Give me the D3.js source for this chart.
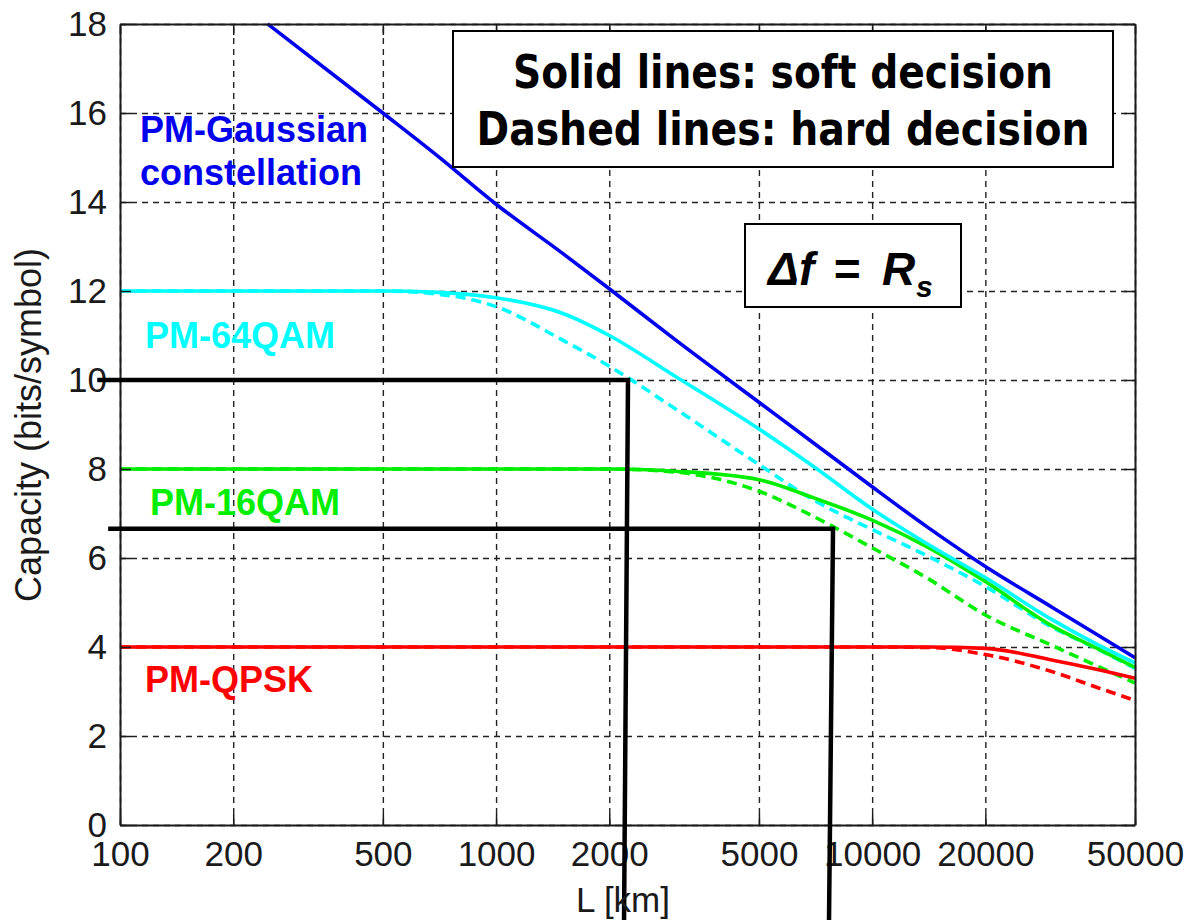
<!DOCTYPE html>
<html>
<head>
<meta charset="utf-8">
<script src="https://cdn.jsdelivr.net/npm/d3@7"></script>
<style>
  body { margin: 0; background: #fff; }
  svg { display: block; background: #fff; }
  .axis text { font-family: "Liberation Sans", Arial, sans-serif; font-size: 35px; fill: #1a1a1a; }
  .axis path { stroke: #1a1a1a; stroke-width: 2; }
  .axis line { stroke: #1a1a1a; stroke-width: 1.5; }
  .grid line { stroke: #222; stroke-width: 1.4; stroke-dasharray: 6,5; }
  .grid path { display: none; }
  .curve-label { font-family: "Liberation Sans", Arial, sans-serif; font-size: 36px; font-weight: bold; }
  .note { font-family: "DejaVu Sans Condensed", "DejaVu Sans", sans-serif; font-stretch: condensed; font-size: 46px; font-weight: bold; fill: #000; }
</style>
</head>
<body>
<div id="chart"></div>
<script>
// tick values
let xTicks = [100, 200, 500, 1000, 2000, 5000, 10000, 20000, 50000];
let yTicks = [0, 2, 4, 6, 8, 10, 12, 14, 16, 18];

// distances (km) shared by the modulation curves
let lengthKm = [100, 200, 500, 700, 1000, 1500, 2000, 3000, 5000, 7000, 10000, 14000, 20000, 30000, 40000, 50000];

// capacity (bits/symbol), soft = solid, hard = dashed
let qam64Soft  = [12, 12, 12, 11.97, 11.85, 11.5, 11.0, 10.08, 8.9, 8.05, 7.1, 6.32, 5.56, 4.62, 4.04, 3.64];
let qam64Hard  = [12, 12, 12, 11.93, 11.65, 10.9, 10.31, 9.35, 8.1, 7.3, 6.64, 6.05, 5.36, 4.45, 3.94, 3.52];
let qam16Soft  = [8, 8, 8, 8, 8, 8, 8.0, 7.95, 7.76, 7.35, 6.85, 6.25, 5.47, 4.48, 3.95, 3.54];
let qam16Hard  = [8, 8, 8, 8, 8, 8, 8.0, 7.93, 7.5, 6.93, 6.23, 5.55, 4.72, 4.04, 3.56, 3.19];
let qpskSoft   = [4, 4, 4, 4, 4, 4, 4, 4, 4, 4, 4, 4.0, 3.97, 3.71, 3.49, 3.3];
let qpskHard   = [4, 4, 4, 4, 4, 4, 4, 4, 4, 4, 4, 3.99, 3.83, 3.45, 3.08, 2.8];

// gaussian constellation has its own distance grid (starts where it enters the plot)
let gaussKm       = [247, 500, 700, 1000, 1500, 2000, 3000, 5000, 7000, 10000, 14000, 20000, 30000, 40000, 50000];
let gaussCapacity = [18, 16.0, 15.03, 13.95, 12.85, 12.05, 10.9, 9.5, 8.58, 7.6, 6.7, 5.81, 4.9, 4.26, 3.76];

// hand-drawn reach markers (capacity level, start / corner / foot distances)
let markerCapacity  = [10, 6.66];
let markerStartKm   = [87, 93];
let markerCornerKm  = [2243, 7870];
let markerFootKm    = [2189, 7678];
let markerFootLevel = -2.2;

let config = {
    svg: { width: 1188, height: 920 },
    plot: { x: 120, y: 24, width: 1015, height: 801 }
};

let svg = d3.select('#chart')
    .append('svg')
        .attr('width', config.svg.width)
        .attr('height', config.svg.height);

let plot = svg.append('g')
        .attr('id', 'plot')
        .attr('transform', translate(config.plot.x, config.plot.y));

let x = d3.scaleLog().domain([100, 50000]).range([0, config.plot.width]);
let y = d3.scaleLinear().domain([0, 18]).range([config.plot.height, 0]);

// dashed grid
plot.append('g')
        .attr('class', 'grid')
        .attr('transform', translate(0, config.plot.height))
    .call(d3.axisBottom(x).tickValues(xTicks).tickSize(-config.plot.height).tickFormat(''));
plot.append('g')
        .attr('class', 'grid')
    .call(d3.axisLeft(y).tickValues(yTicks).tickSize(-config.plot.width).tickFormat(''));

// build series from the arrays
function toPoints(km, cap) {
    return km.map((d, i) => ({ km: d, cap: cap[i] }));
}

let series = [
    { points: toPoints(lengthKm, qpskHard),  color: '#ff0000', dashed: true },
    { points: toPoints(lengthKm, qam16Hard), color: '#00ee00', dashed: true },
    { points: toPoints(lengthKm, qam64Hard), color: '#00ffff', dashed: true },
    { points: toPoints(lengthKm, qpskSoft),  color: '#ff0000', dashed: false },
    { points: toPoints(lengthKm, qam16Soft), color: '#00ee00', dashed: false },
    { points: toPoints(lengthKm, qam64Soft), color: '#00ffff', dashed: false },
    { points: toPoints(gaussKm, gaussCapacity), color: '#0000ee', dashed: false }
];

let line = d3.line()
    .x((d) => { return x(d.km); })
    .y((d) => { return y(d.cap); })
    .curve(d3.curveMonotoneX);

plot.selectAll('.curve')
    .data(series)
    .enter()
    .append('path')
        .attr('class', 'curve')
        .attr('d', (d) => { return line(d.points); })
        .attr('fill', 'none')
        .attr('stroke', (d) => { return d.color; })
        .attr('stroke-width', 3.6)
        .attr('stroke-dasharray', (d) => { return d.dashed ? '10,6' : null; });

// axes with inward ticks on all four sides
plot.append('g')
        .attr('class', 'axis axis--x')
        .attr('transform', translate(0, config.plot.height))
    .call(d3.axisBottom(x).tickValues(xTicks).tickSize(-11).tickSizeOuter(0).tickPadding(16).tickFormat((d) => { return String(d); }));
plot.append('g')
        .attr('class', 'axis axis--y')
    .call(d3.axisLeft(y).tickValues(yTicks).tickSize(-11).tickSizeOuter(0).tickPadding(13));
plot.append('g')
        .attr('class', 'axis')
    .call(d3.axisTop(x).tickValues(xTicks).tickSize(-11).tickSizeOuter(0).tickFormat(''));
plot.append('g')
        .attr('class', 'axis')
        .attr('transform', translate(config.plot.width, 0))
    .call(d3.axisRight(y).tickValues(yTicks).tickSize(-11).tickSizeOuter(0).tickFormat(''));

// curve labels
plot.append('text').attr('class', 'curve-label').attr('x', 20).attr('y', 118).attr('fill', '#0000ee').text('PM-Gaussian');
plot.append('text').attr('class', 'curve-label').attr('x', 20).attr('y', 161).attr('fill', '#0000ee').text('constellation');
plot.append('text').attr('class', 'curve-label').attr('x', 25).attr('y', 324).attr('fill', '#00ffff').text('PM-64QAM');
plot.append('text').attr('class', 'curve-label').attr('x', 30).attr('y', 491).attr('fill', '#00ee00').text('PM-16QAM');
plot.append('text').attr('class', 'curve-label').attr('x', 25).attr('y', 668).attr('fill', '#ff0000').text('PM-QPSK');

// solid / dashed note
plot.append('rect')
    .attr('x', 333).attr('y', 7)
    .attr('width', 660).attr('height', 136)
    .attr('fill', '#fff').attr('stroke', '#000').attr('stroke-width', 2);
plot.append('text').attr('class', 'note')
    .attr('x', 663).attr('y', 64).attr('text-anchor', 'middle')
    .attr('textLength', 540).attr('lengthAdjust', 'spacingAndGlyphs')
    .text('Solid lines: soft decision');
plot.append('text').attr('class', 'note')
    .attr('x', 663).attr('y', 121).attr('text-anchor', 'middle')
    .attr('textLength', 613).attr('lengthAdjust', 'spacingAndGlyphs')
    .text('Dashed lines: hard decision');

// delta f box
plot.append('rect')
    .attr('x', 625).attr('y', 200)
    .attr('width', 216).attr('height', 83)
    .attr('fill', '#fff').attr('stroke', '#000').attr('stroke-width', 2);
let df = plot.append('text')
    .attr('y', 261)
    .style('font-family', '"Liberation Sans", Arial, sans-serif')
    .style('font-size', '46px')
    .style('font-weight', 'bold')
    .style('font-style', 'italic');
df.append('tspan').attr('x', 648).text('\u0394f');
df.append('tspan').attr('x', 713).text('=');
df.append('tspan').attr('x', 762).text('R');
df.append('tspan').attr('x', 796).attr('dy', 12).style('font-size', '30px').text('s');

// reach markers
let markers = markerCapacity.map((c, i) => ({
    cap: c, start: markerStartKm[i], corner: markerCornerKm[i], foot: markerFootKm[i]
}));
plot.selectAll('.marker')
    .data(markers)
    .enter()
    .append('path')
        .attr('class', 'marker')
        .attr('d', (d) => {
            return 'M' + x(d.start) + ',' + y(d.cap) +
                   'L' + x(d.corner) + ',' + y(d.cap) +
                   'L' + x(d.foot) + ',' + y(markerFootLevel);
        })
        .attr('fill', 'none')
        .attr('stroke', '#000')
        .attr('stroke-width', 4.5);

// axis titles
svg.append('text')
    .attr('transform', translate(41, 425) + ' rotate(-90)')
    .attr('text-anchor', 'middle')
    .style('font-family', '"Liberation Sans", Arial, sans-serif')
    .style('font-size', '36px')
    .style('fill', '#1a1a1a')
    .text('Capacity (bits/symbol)');
svg.append('text')
    .attr('x', 623).attr('y', 912)
    .attr('text-anchor', 'middle')
    .style('font-family', '"Liberation Sans", Arial, sans-serif')
    .style('font-size', '35px')
    .style('fill', '#1a1a1a')
    .text('L [km]');

// helper method to make translating easier
function translate(x, y) {
    return 'translate(' + x + ',' + y + ')';
}
</script>
</body>
</html>
